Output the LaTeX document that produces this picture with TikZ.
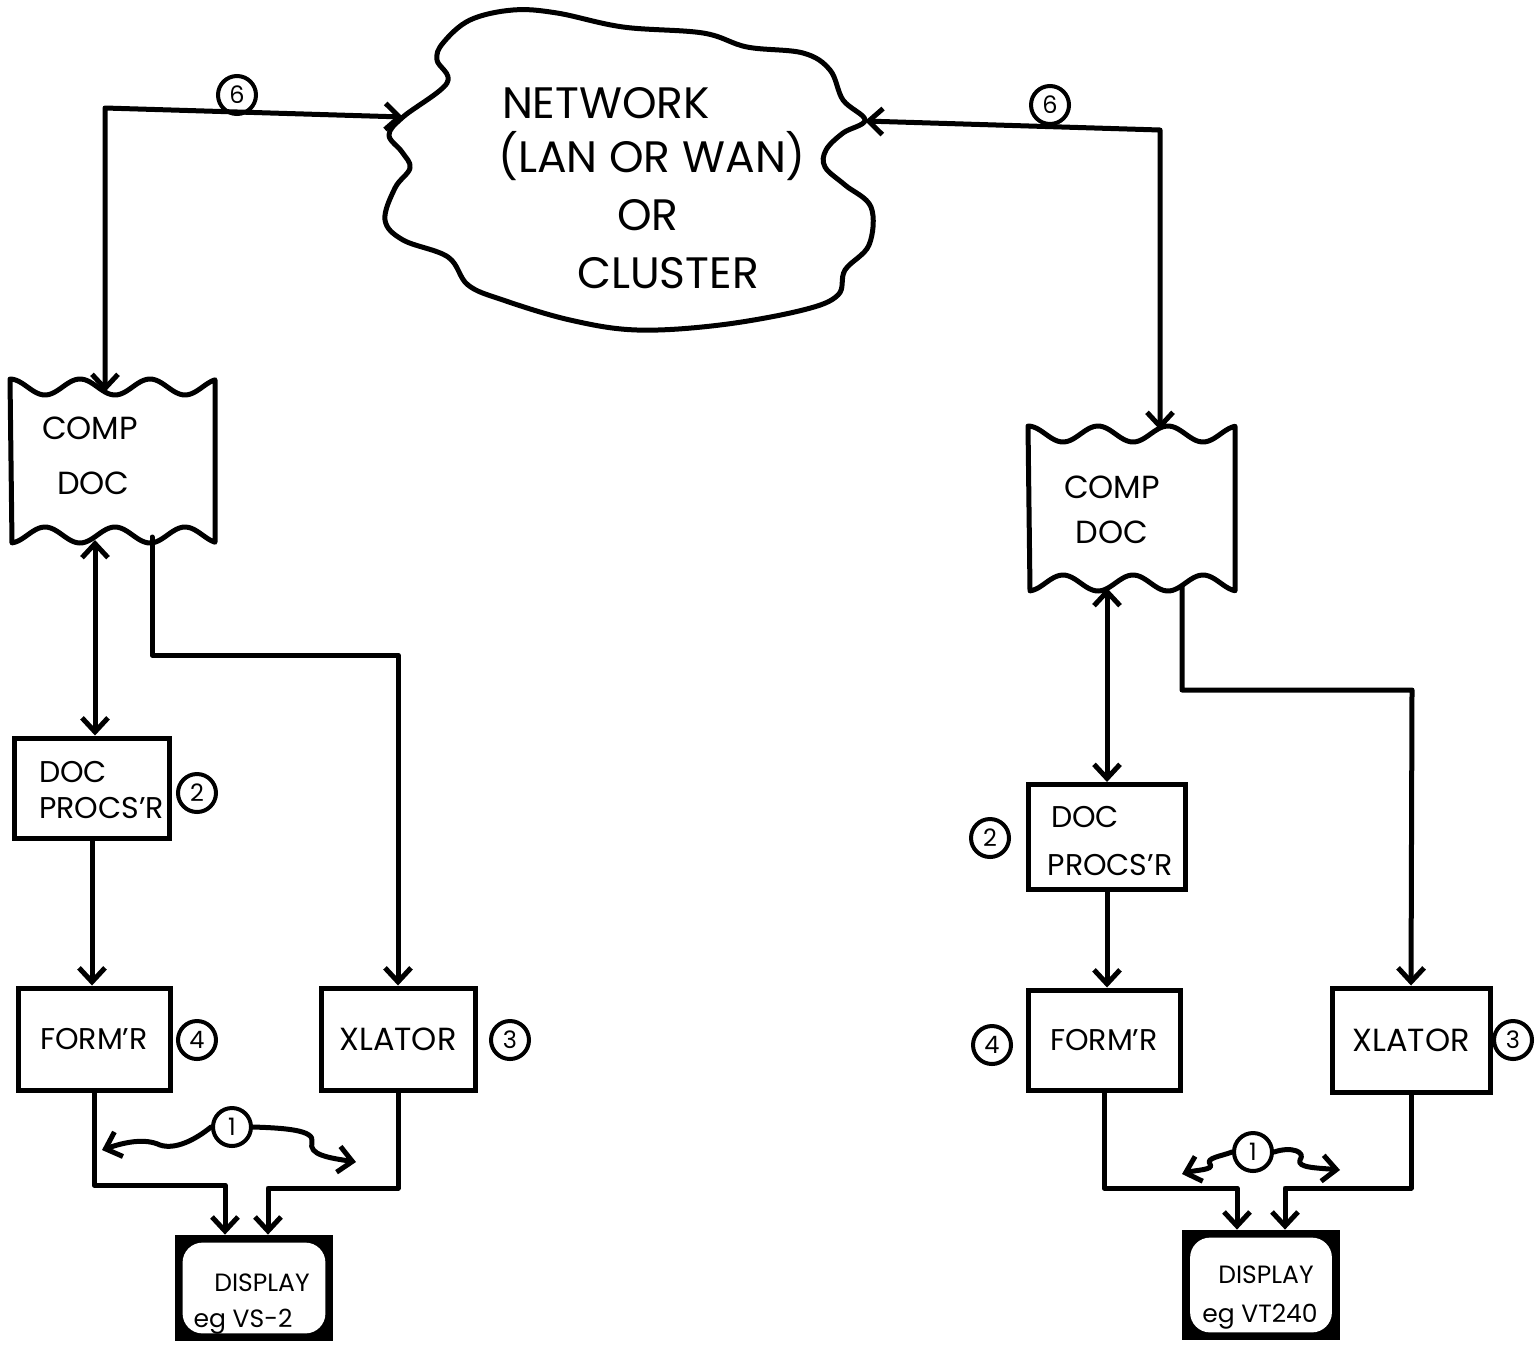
\documentclass[tikz,border=0pt]{standalone}
\usepackage{fontspec}
\setmainfont{Poppins}
\usetikzlibrary{arrows.meta,calc}
\pgfdeclarelayer{bg}\pgfsetlayers{bg,main}
\begin{document}
\begin{tikzpicture}[x=0.5pt,y=-0.5pt,
  ln/.style={line width=2.5pt,line join=round,line cap=round},
  tip/.tip={Straight Barb[length=7pt,width=13pt,line width=2.5pt]},
  arr/.style={ln,-tip},
  dbl/.style={ln,tip-tip},
  box/.style={draw,line width=2.5pt,inner sep=0pt},
  num/.style={draw,circle,line width=2pt,minimum size=19pt,inner sep=0pt,font=\fontsize{12}{12}\selectfont},
  big/.style={font=\fontsize{22}{26}\selectfont},
  mid/.style={font=\fontsize{16}{19}\selectfont},
  sml/.style={font=\fontsize{15}{19}\selectfont},
  tiny/.style={font=\fontsize{12.5}{15}\selectfont}]
\useasboundingbox (0,0) rectangle (1535,1344);

% ---------- cloud ----------
\draw[ln] plot[smooth cycle,tension=0.6] coordinates {
 (403,117) (447,83) (437,60) (443,43) (470,20) (513,10) (557,13) (623,27) (703,33)
 (747,47) (803,53) (830,70) (843,100) (865,120) (843,133) (826,150) (825,167)
 (845,185) (871,207) (869,245) (845,270) (838,295) (803,310) (720,325) (637,330)
 (570,320) (503,300) (468,285) (448,257) (403,240) (385,220) (395,188) (410,168)
 (402,152) (389,135)};
\node[big] (t1) at (606,103) {NETWORK};
\node[big] (t2) at (652,156) {(LAN OR WAN)};
\node[big] (t3) at (648,215) {OR};
\node[big] (t4) at (668,273) {CLUSTER};
\coordinate (cL) at (403,117);
\coordinate (cR) at (865,121);

% ---------- left composite document ----------
\draw[ln] plot[domain=10:215,samples=70,smooth] (\x,{387+8*sin((\x-10)/70*360-90)})
  -- plot[domain=215:12,samples=70,smooth] (\x,{535+8*sin((\x-10)/70*360+90)}) -- cycle;
\node[mid,anchor=west] (lc1) at (35,428) {COMP};
\node[mid,anchor=west] (lc2) at (50,483) {DOC};
\coordinate (lk6) at (105,108);
\coordinate (lcdT) at (105,392);
\coordinate (lcdB1) at (95,540);
\coordinate (lcdB2) at (152,537);

% ---------- right composite document ----------
\draw[ln] plot[domain=1028:1235,samples=70,smooth] (\x,{434+8*sin((\x-1028)/70*360-90)})
  -- plot[domain=1235:1030,samples=70,smooth] (\x,{583+8*sin((\x-1028)/70*360+90)}) -- cycle;
\node[mid] (rc1) at (1112,487) {COMP};
\node[mid] (rc2) at (1112,532) {DOC};
\coordinate (rk6) at (1160,130);
\coordinate (rcdT) at (1160,430);
\coordinate (rcdB1) at (1107,588);
\coordinate (rcdB2) at (1182,586);

% ---------- left chain ----------
\node[box,minimum width=77.5pt,minimum height=50pt] (ldp) at (92,788) {};
\node[sml,anchor=west] (ldpt1) at (32,772) {DOC};
\node[sml,anchor=west] (ldpt2) at (32,808) {PROCS'R};
\node[num] (n2l) at (197,793) {2};

\node[box,minimum width=76pt,minimum height=51pt,sml] (lfm) at (94,1039) {FORM'R};
\node[num] (n4l) at (197,1040) {4};
\node[box,minimum width=77pt,minimum height=51pt,mid] (lxl) at (398,1039) {XLATOR};
\node[num] (n3l) at (510,1040) {3};

\node[minimum width=79pt,minimum height=53pt,inner sep=0pt] (ldisp) at (254,1288) {};
\begin{pgfonlayer}{bg}
\fill (ldisp.south west) rectangle (ldisp.north east);
\fill[white,rounded corners=10pt] ($(ldisp.south west)+(8,-8)$) rectangle ($(ldisp.north east)+(-8,8)$);
\end{pgfonlayer}
\node[tiny] (ld1) at (262,1283) {DISPLAY};
\node[tiny] (ld2) at (243,1322) {eg VS-2};

% ---------- right chain ----------
\node[box,minimum width=78.5pt,minimum height=52.5pt] (rdp) at (1107,837) {};
\node[sml] (rdpt1) at (1085,817) {DOC};
\node[sml] (rdpt2) at (1110,865) {PROCS'R};
\node[num] (n2r) at (990,838) {2};

\node[box,minimum width=76pt,minimum height=50pt,sml] (rfm) at (1104,1040) {FORM'R};
\node[num] (n4r) at (992,1045) {4};
\node[box,minimum width=79pt,minimum height=52pt,mid] (rxl) at (1411,1040) {XLATOR};
\node[num] (n3r) at (1513,1040) {3};

\node[minimum width=78.5pt,minimum height=55pt,inner sep=0pt] (rdisp) at (1261,1285) {};
\begin{pgfonlayer}{bg}
\fill (rdisp.south west) rectangle (rdisp.north east);
\fill[white,rounded corners=10pt] ($(rdisp.south west)+(8,-8)$) rectangle ($(rdisp.north east)+(-8,8)$);
\end{pgfonlayer}
\node[tiny] (rd1) at (1266,1275) {DISPLAY};
\node[tiny] (rd2) at (1260,1317) {eg VT240};

% ---------- network links ----------
\node[num] (n6l) at (237,95) {6};
\node[num] (n6r) at (1050,105) {6};
\draw[dbl] (cL) -- (lk6) -- (lcdT);
\draw[dbl] (cR) -- (rk6) -- (rcdT);

% ---------- left connectors ----------
\draw[dbl] (lcdB1) -- (lcdB1 |- ldp.north);
\coordinate (lk1) at (398,655);
\draw[arr] (lcdB2) |- (lk1) -- (lxl.north);
\draw[arr] (ldp.south) -- (ldp.south |- lfm.north);
\coordinate (ljl) at (225,1185);
\coordinate (ljr) at (268,1188);
\draw[arr] (lfm.south) |- (ljl) -- (ljl |- ldisp.north);
\draw[arr] (lxl.south) |- (ljr) -- (ljr |- ldisp.north);
\node[num] (n1l) at (232,1127) {1};
\draw[arr] (n1l.west) .. controls (195,1140) and (175,1150) .. (160,1145)
  .. controls (145,1138) and (125,1142) .. (102,1150);
\draw[arr] (n1l.east) .. controls (285,1128) and (315,1130) .. (312,1142)
  .. controls (308,1155) and (330,1158) .. (356,1162);

% ---------- right connectors ----------
\draw[dbl] (rcdB1) -- (rcdB1 |- rdp.north);
\coordinate (rk1) at (1412,690);
\draw[arr] (rcdB2) |- (rk1) -- (rxl.north);
\draw[arr] (rdp.south) -- (rdp.south |- rfm.north);
\coordinate (rjl) at (1237,1188);
\coordinate (rjr) at (1285,1188);
\draw[arr] (rfm.south) |- (rjl) -- (rjl |- rdisp.north);
\draw[arr] (rxl.south) |- (rjr) -- (rjr |- rdisp.north);
\node[num] (n1r) at (1253,1152) {1};
\draw[arr] (n1r.west) .. controls (1222,1156) and (1205,1158) .. (1210,1164)
  .. controls (1215,1170) and (1195,1170) .. (1182,1174);
\draw[arr] (n1r.east) .. controls (1292,1146) and (1306,1152) .. (1300,1160)
  .. controls (1296,1168) and (1320,1168) .. (1340,1170);
\end{tikzpicture}
\end{document}
